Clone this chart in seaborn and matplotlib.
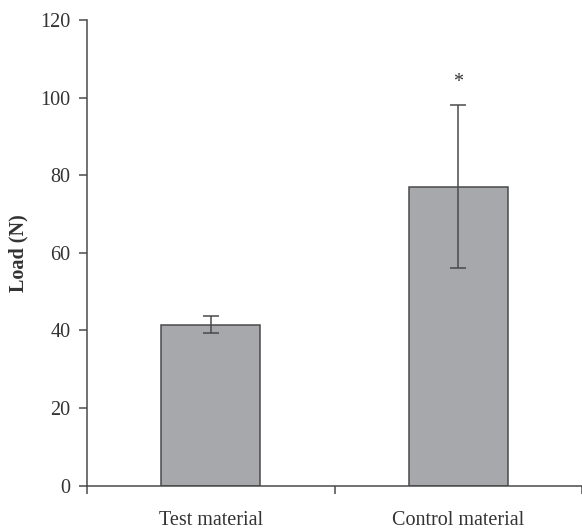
import numpy as np
import pandas as pd
import matplotlib
matplotlib.use("Agg")
import matplotlib.pyplot as plt
import seaborn as sns

# Data
materials = ["Test material", "Control material"]
load_mean = [41.5, 77.0]
load_sd = [2.2, 21.0]
significance = ["", "*"]

sns.set_theme(style="white")
plt.rcParams["font.family"] = ["Liberation Serif", "DejaVu Serif"]
text_col = "#333333"
edge_col = "#4a4a4a"
fs = 14.5

df = pd.DataFrame({"material": materials, "load": load_mean})

fig = plt.figure(figsize=(5.82, 5.31), dpi=100)
ax = fig.add_axes([0.1495, 0.0853, 0.8505, 0.877])

sns.barplot(data=df, x="material", y="load", color="#a7a8ab", saturation=1,
            width=0.4, edgecolor=edge_col, linewidth=1.1, ax=ax, errorbar=None)

ax.errorbar(np.arange(len(materials)), load_mean, yerr=load_sd, fmt="none",
            ecolor=edge_col, elinewidth=1.1, capsize=6, capthick=1.1)

# significance marks
for i, (m, s, sig) in enumerate(zip(load_mean, load_sd, significance)):
    if sig:
        ax.text(i, m + s + 3.5, sig, ha="center", va="bottom", fontsize=fs, color=text_col)

ax.set_xlim(-0.5, 1.5)
ax.set_ylim(0, 120)
ax.set_yticks(range(0, 121, 20))

# ticks between categories, labels at bar centres
ax.set_xticks([-0.5, 0.5, 1.5])
ax.set_xticklabels([])
ax.set_xticks(range(len(materials)), minor=True)
ax.set_xticklabels(materials, minor=True)
ax.tick_params(axis="x", which="minor", length=0, pad=18, labelsize=fs, labelcolor=text_col)
ax.tick_params(axis="x", which="major", direction="out", length=6, width=1.1, color=edge_col, bottom=True)
ax.tick_params(axis="y", direction="out", length=6, width=1.1, color=edge_col, left=True,
               labelsize=fs, labelcolor=text_col, pad=6)

ax.set_xlabel("")
ax.set_ylabel("Load (N)", fontsize=fs, fontweight="bold", color=text_col, labelpad=8)

sns.despine(ax=ax)
for sp in ["left", "bottom"]:
    ax.spines[sp].set_color(edge_col)
    ax.spines[sp].set_linewidth(1.1)

fig.savefig("out.png", dpi=100)
